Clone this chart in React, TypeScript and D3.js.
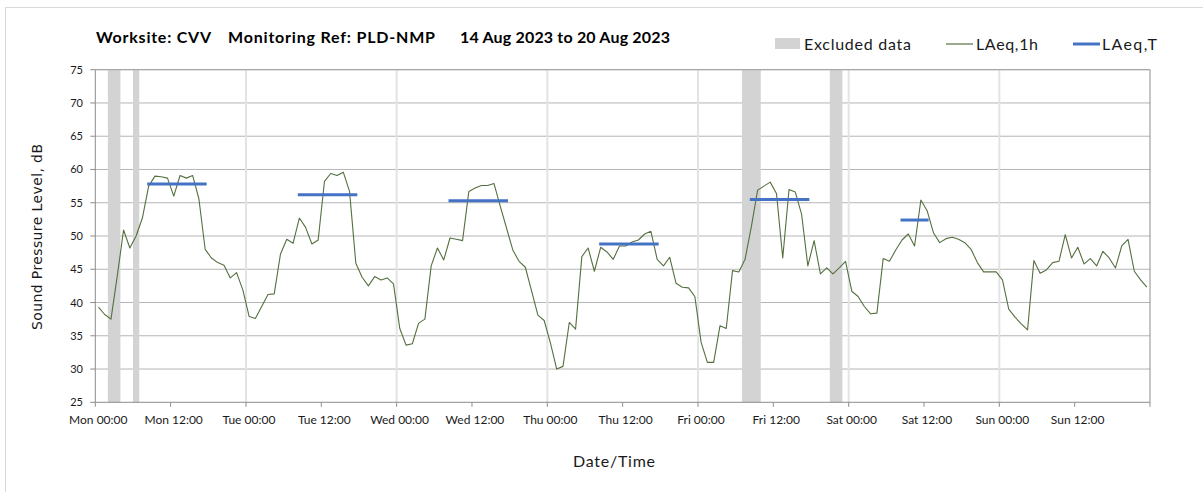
import React from "react";
import * as d3 from "d3";

// Hourly LAeq,1h values (index 0 = Mon 00:00-01:00)
const mon = [39.3, 38.2, 37.5, 44.0, 50.9, 48.2, 50.0, 52.7, 57.5, 59.0, 58.9, 58.7, 56.0, 59.1, 58.7, 59.1, 55.6, 48.0, 46.7, 46.0, 45.6, 43.7, 44.5, 41.9];
const tue = [37.9, 37.6, 39.4, 41.2, 41.3, 47.3, 49.5, 48.9, 52.7, 51.3, 48.8, 49.4, 58.2, 59.4, 59.1, 59.6, 56.7, 45.9, 43.8, 42.5, 43.9, 43.4, 43.7, 42.8];
const wed = [36.1, 33.6, 33.8, 36.9, 37.5, 45.5, 48.2, 46.4, 49.7, 49.5, 49.3, 56.7, 57.2, 57.6, 57.6, 57.9, 54.5, 51.2, 47.9, 46.2, 45.3, 41.7, 38.1, 37.3];
const thu = [33.9, 30.0, 30.4, 37.0, 36.0, 46.9, 48.2, 44.7, 48.3, 47.6, 46.5, 48.5, 48.5, 49.1, 49.4, 50.3, 50.7, 46.5, 45.5, 46.8, 42.9, 42.3, 42.2, 40.9];
const fri = [34.0, 31.0, 31.0, 36.5, 36.1, 44.8, 44.6, 46.5, 51.4, 56.9, 57.5, 58.1, 56.4, 46.7, 57.0, 56.6, 53.3, 45.5, 49.3, 44.3, 45.2, 44.3, 45.2, 46.2];
const sat = [41.7, 40.9, 39.4, 38.3, 38.4, 46.6, 46.2, 47.9, 49.4, 50.3, 48.5, 55.4, 53.8, 50.5, 49.0, 49.6, 49.8, 49.5, 49.0, 48.0, 46.0, 44.6, 44.6, 44.6];
const sun = [43.4, 39.0, 37.8, 36.8, 35.9, 46.3, 44.4, 44.9, 46.0, 46.2, 50.2, 46.7, 48.3, 45.8, 46.6, 45.5, 47.7, 46.7, 45.2, 48.5, 49.5, 44.7, 43.4, 42.3];

// LAeq,T periods (hour index from Mon 00:00)
const ltStart = [8, 32, 56, 80, 104, 128];
const ltEnd = [17, 41, 65, 89, 113, 132];
const ltValue = [57.8, 56.2, 55.3, 48.8, 55.5, 52.4];

// Excluded data periods (hours from Mon 00:00)
const exStart = [2, 6, 103, 117];
const exEnd = [4, 7, 106, 119];

const dayNames = ["Mon", "Tue", "Wed", "Thu", "Fri", "Sat", "Sun"];
const yTicks = [25, 30, 35, 40, 45, 50, 55, 60, 65, 70, 75];

const W = 1203;
const H = 492;
const GREEN = "#55703f";
const BLUE = "#4472c4";
const BAND = "#d3d3d3";

export default function App() {
  const hourly = [...mon, ...tue, ...wed, ...thu, ...fri, ...sat, ...sun];
  const x = d3.scaleLinear().domain([0, 168]).range([95.3, 1150]);
  const y = d3.scaleLinear().domain([25, 75]).range([402.3, 69.7]);
  const line = d3
    .line<number>()
    .x((_, i) => x(i + 0.5))
    .y((d) => y(d));
  const xTicks = d3.range(0, 169, 12);
  const dayLines = d3.range(24, 168, 24);
  const font = "Lato, 'Open Sans', sans-serif";
  const y0 = y(25);
  const y1 = y(75);

  return (
    <svg
      width={W}
      height={H}
      style={{ position: "absolute", left: 0, top: 0, background: "#fff" }}
      fontFamily={font}
    >
      <rect x={0} y={0} width={W} height={H} fill="#fff" />
      <rect x={5.5} y={7.5} width={1400} height={700} fill="none" stroke="#d9d9d9" strokeWidth={1} />

      {/* title */}
      <g fontWeight="bold" fontSize={16} fill="#000">
        <text x={96} y={43} textLength={115} lengthAdjust="spacing">Worksite: CVV</text>
        <text x={228} y={43} textLength={207} lengthAdjust="spacing">Monitoring Ref: PLD-NMP</text>
        <text x={460} y={43} textLength={210} lengthAdjust="spacing">14 Aug 2023 to 20 Aug 2023</text>
      </g>

      {/* legend */}
      <g fontSize={16} fill="#1a1a1a">
        <rect x={775} y={38} width={25} height={11} fill={BAND} />
        <text x={804} y={49.5} textLength={107} lengthAdjust="spacing">Excluded data</text>
        <line x1={946} x2={973} y1={44} y2={44} stroke={GREEN} strokeWidth={1.2} />
        <text x={976} y={49.5} textLength={62} lengthAdjust="spacing">LAeq,1h</text>
        <line x1={1073} x2={1100} y1={44} y2={44} stroke={BLUE} strokeWidth={3} />
        <text x={1102} y={49.5} textLength={55} lengthAdjust="spacing">LAeq,T</text>
      </g>

      {/* horizontal gridlines */}
      {yTicks.slice(1).map((t) => (
        <line key={"g" + t} x1={x(0)} x2={x(168)} y1={y(t)} y2={y(t)} stroke="#b5b5b5" strokeWidth={1} />
      ))}
      {/* vertical day gridlines */}
      {dayLines.map((h) => (
        <line key={"d" + h} x1={x(h)} x2={x(h)} y1={y1} y2={y0} stroke="#e3e3e3" strokeWidth={2} />
      ))}

      {/* excluded bands */}
      {exStart.map((s, i) => (
        <rect key={"ex" + i} x={x(s)} y={y1} width={x(exEnd[i]) - x(s)} height={y0 - y1} fill={BAND} />
      ))}

      {/* frame / axes */}
      <line x1={x(0)} x2={x(0)} y1={y1} y2={y0} stroke="#8c8c8c" strokeWidth={1} />
      <line x1={x(168)} x2={x(168)} y1={y1} y2={y0} stroke="#8c8c8c" strokeWidth={1} />
      <line x1={x(0)} x2={x(168)} y1={y1} y2={y1} stroke="#a0a0a0" strokeWidth={1} />
      <line x1={x(0)} x2={x(168)} y1={y0} y2={y0} stroke="#8c8c8c" strokeWidth={1} />

      {/* y ticks and labels */}
      {yTicks.map((t) => (
        <g key={"yt" + t}>
          <line x1={x(0) - 5} x2={x(0)} y1={y(t)} y2={y(t)} stroke="#8c8c8c" />
          <text x={83} y={y(t) + 4} fontSize={11} textAnchor="end" fill="#1a1a1a">
            {t}
          </text>
        </g>
      ))}

      {/* x ticks and labels */}
      {xTicks.map((h) => (
        <line key={"xt" + h} x1={x(h)} x2={x(h)} y1={y0} y2={y0 + 4.5} stroke="#8c8c8c" />
      ))}
      {xTicks.slice(0, 14).map((h) => (
        <text key={"xl" + h} x={x(h) + 3} y={424} fontSize={12} textAnchor="middle" fill="#1a1a1a">
          {`${dayNames[Math.floor(h / 24)]} ${h % 24 === 0 ? "00" : "12"}:00`}
        </text>
      ))}

      {/* axis titles */}
      <text
        transform={`translate(42,237) rotate(-90)`}
        fontFamily="'DejaVu Sans', sans-serif"
        fontSize={14}
        textAnchor="middle"
        fill="#1a1a1a"
        textLength={186}
        lengthAdjust="spacing"
      >
        Sound Pressure Level, dB
      </text>
      <text x={614} y={467} fontSize={16} textAnchor="middle" fill="#1a1a1a" textLength={82} lengthAdjust="spacing">
        Date/Time
      </text>

      {/* LAeq,1h line */}
      <path d={line(hourly) || ""} fill="none" stroke={GREEN} strokeWidth={1.1} strokeLinejoin="round" />

      {/* LAeq,T segments */}
      {ltStart.map((s, i) => (
        <line
          key={"lt" + i}
          x1={x(s + 0.5)}
          x2={x(ltEnd[i] + 0.5)}
          y1={y(ltValue[i])}
          y2={y(ltValue[i])}
          stroke={BLUE}
          strokeWidth={3}
          strokeLinecap="square"
        />
      ))}
    </svg>
  );
}
